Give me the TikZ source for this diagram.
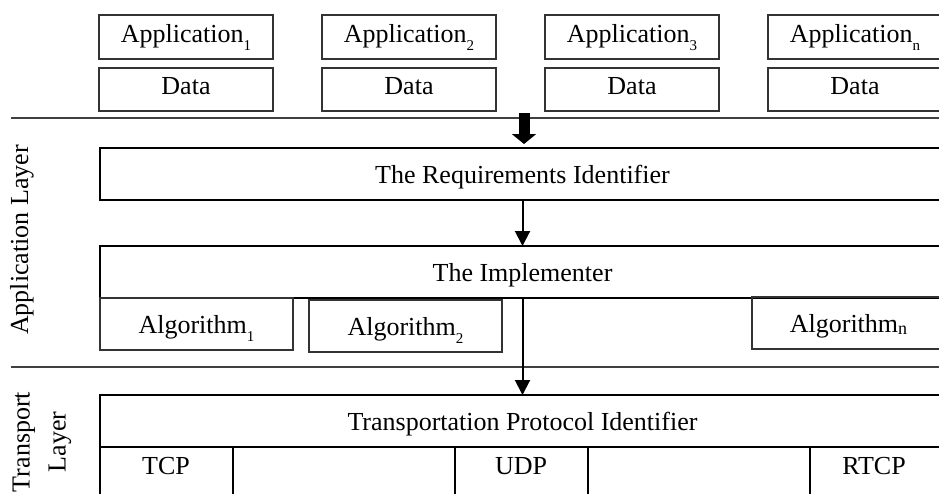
\documentclass[tikz,border=0pt]{standalone}
\usepackage{fontspec}
\setmainfont{Liberation Serif}
\usetikzlibrary{arrows.meta}
\newcommand\lowsub[1]{\raisebox{-8pt}{\fontsize{15}{15}\selectfont #1}}
\newcommand\nsub{\raisebox{-2pt}{\fontsize{18}{18}\selectfont n}}
\begin{document}
\begin{tikzpicture}[x=1pt,y=-1pt,
  every node/.style={font=\fontsize{26}{36}\selectfont, inner sep=0pt, outer sep=0pt},
  smallbox/.style={draw=black!80, line width=1.2pt, minimum width=174pt, minimum height=44pt,
     anchor=north west, text height=18pt, text depth=8pt},
  mainbox/.style={draw=black, line width=2.5pt, minimum width=845pt, minimum height=52pt,
     anchor=north west, text height=18pt, text depth=0pt},
  algbox/.style={draw=black!80, line width=1.2pt, minimum width=193pt, minimum height=52pt,
     anchor=north west, text height=18pt, text depth=0pt},
  cellbox/.style={draw=black, line width=1.2pt, minimum height=60pt, anchor=north west},
  divider/.style={draw=black!75, line width=1.6pt},
  flow/.style={line width=2pt, -{Triangle[width=15pt,length=15pt]}},
  bigflow/.style={line width=11pt, -{Triangle[width=24pt,length=10pt]}},
]
\useasboundingbox (0,0) rectangle (939,493);
\clip (0,0) rectangle (939,493);

% application and data boxes
\node[smallbox] (app1) at (99,15) {Application\lowsub{1}};
\node[smallbox, minimum height=43pt] (data1) at (99,68) {Data};
\node[smallbox] (app2) at (322,15) {Application\lowsub{2}};
\node[smallbox, minimum height=43pt] (data2) at (322,68) {Data};
\node[smallbox] (app3) at (545,15) {Application\lowsub{3}};
\node[smallbox, minimum height=43pt] (data3) at (545,68) {Data};
\node[smallbox] (appn) at (768,15) {Application\lowsub{n}};
\node[smallbox, minimum height=43pt] (datan) at (768,68) {Data};

% dividers
\coordinate (d1l) at (11,118);
\coordinate (d1r) at (945,118);
\coordinate (d2l) at (11,367);
\coordinate (d2r) at (945,367);
\draw[divider] (d1l) -- (d1r);
\draw[divider] (d2l) -- (d2r);

% layer labels
\node[rotate=90] (applayer) at (22,240) {Application Layer};
\node[rotate=90, align=center] (translayer) at (42,442) {Transport\\Layer};

% main boxes
\node[mainbox] (req) at (100,148) {The Requirements Identifier};
\node[mainbox] (impl) at (100,246) {The Implementer};
\node[mainbox] (trans) at (100,395) {Transportation Protocol Identifier};

% algorithm boxes
\node[algbox] (alg1) at (100,298) {Algorithm\lowsub{1}};
\node[algbox] (alg2) at (309,300) {Algorithm\lowsub{2}};
\node[algbox] (algn) at (752,297) {Algorithm\nsub};

% protocol cells
\node[cellbox, minimum width=133pt] (c1) at (100,447) {};
\node[cellbox, minimum width=222pt] (c2) at (233,447) {};
\node[cellbox, minimum width=133pt] (c3) at (455,447) {};
\node[cellbox, minimum width=222pt] (c4) at (588,447) {};
\node[cellbox, minimum width=140pt] (c5) at (810,447) {};
\node[text height=18pt, text depth=0pt] (tcp) at (166,465) {TCP};
\node[text height=18pt, text depth=0pt] (udp) at (521,465) {UDP};
\node[text height=18pt, text depth=0pt] (rtcp) at (874,465) {RTCP};
\draw[line width=2.5pt] (trans.south west) -- (trans.south east);

% arrows
\coordinate (blktop) at (524,113);
\draw[bigflow, shorten >=4pt] (blktop) -- (blktop |- req.north);
\draw[flow] (req.south) -- (impl.north);
\draw[flow] (impl.south) -- (trans.north);
\end{tikzpicture}
\end{document}
